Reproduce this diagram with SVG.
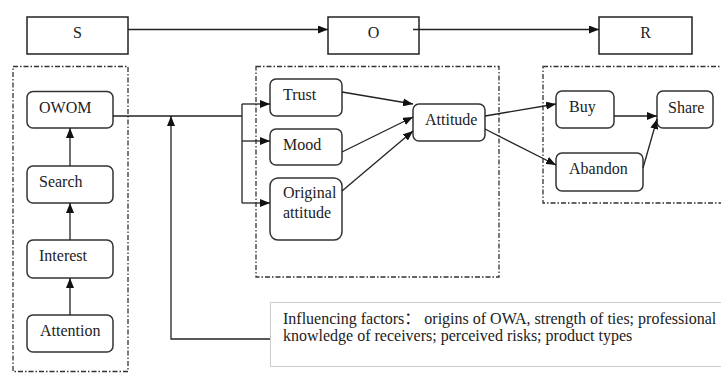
<svg xmlns="http://www.w3.org/2000/svg" width="721" height="373" viewBox="0 0 721 373">
  <defs>
    <marker id="arrow" markerUnits="userSpaceOnUse" markerWidth="10" markerHeight="8" refX="10" refY="4" orient="auto">
      <path d="M0,0 L10,4 L0,8 z" fill="#111"/>
    </marker>
    <style>
      text { font-family: "Liberation Serif", "Times New Roman", Times, "DejaVu Serif", serif; font-size: 16px; fill: #222; }
      .cjk { font-family: "Noto Sans CJK SC", "Liberation Serif", serif; }
      .stage { fill: #fff; stroke: #222; stroke-width: 1.5; }
      .node { fill: #fff; stroke: #333; stroke-width: 1.5; }
      .zone { fill: none; stroke: #333; stroke-width: 1.3; stroke-dasharray: 5 2 1.5 2; }
      .note { fill: #fff; stroke: #999; stroke-width: 1; stroke-dasharray: 1 1; }
      .link { fill: none; stroke: #222; stroke-width: 1.3; }
      .arr { marker-end: url(#arrow); }
    </style>
  </defs>
  <rect width="721" height="373" fill="#fff"/>

  <!-- dash-dot grouping frames -->
  <g id="frames">
    <rect class="zone" x="13" y="66.5" width="115" height="305"/>
    <rect class="zone" x="256" y="66.5" width="243" height="210.5"/>
    <rect class="zone" x="543" y="66.5" width="190" height="136.5"/>
  </g>

  <!-- S-O-R stages -->
  <g id="stage-s"><rect class="stage" x="27" y="17" width="101" height="37"/><text x="77.5" y="38" text-anchor="middle">S</text></g>
  <g id="stage-o"><rect class="stage" x="328" y="17" width="91" height="37"/><text x="373.5" y="38" text-anchor="middle">O</text></g>
  <g id="stage-r"><rect class="stage" x="599" y="17" width="93" height="37"/><text x="645.5" y="38" text-anchor="middle">R</text></g>

  <!-- stimulus chain -->
  <g id="owom"><rect class="node" x="27" y="91.5" width="86" height="36.5" rx="6"/><text x="39" y="113">OWOM</text></g>
  <g id="search"><rect class="node" x="27" y="166" width="86" height="37" rx="6"/><text x="39" y="187">Search</text></g>
  <g id="interest"><rect class="node" x="27" y="240" width="86" height="38" rx="6"/><text x="39" y="261">Interest</text></g>
  <g id="attention"><rect class="node" x="27" y="315" width="86" height="37" rx="6"/><text x="40" y="336">Attention</text></g>

  <!-- organism -->
  <g id="trust"><rect class="node" x="270" y="79" width="72" height="37" rx="6"/><text x="283" y="99.5">Trust</text></g>
  <g id="mood"><rect class="node" x="270" y="129" width="72" height="36" rx="6"/><text x="283" y="150">Mood</text></g>
  <g id="original-attitude"><rect class="node" x="270" y="178" width="72" height="62" rx="8"/><text x="283" y="198">Original</text><text x="283" y="218">attitude</text></g>
  <g id="attitude"><rect class="node" x="413" y="104" width="72" height="37" rx="6"/><text x="425" y="125">Attitude</text></g>

  <!-- response -->
  <g id="buy"><rect class="node" x="556" y="91" width="58" height="37" rx="6"/><text x="569" y="112">Buy</text></g>
  <g id="share"><rect class="node" x="657" y="91" width="56" height="37" rx="6"/><text x="668" y="113">Share</text></g>
  <g id="abandon"><rect class="node" x="556" y="153" width="87" height="38" rx="6"/><text x="569" y="174">Abandon</text></g>

  <!-- influencing factors note -->
  <g id="factors">
    <rect class="note" x="270.5" y="302.5" width="470" height="64"/>
    <text x="283" y="324">Influencing factors<tspan class="cjk">：</tspan> origins of OWA, strength of ties; professional</text>
    <text x="283" y="341">knowledge of receivers; perceived risks; product types</text>
  </g>

  <!-- connectors -->
  <g id="connectors">
    <line class="link arr" x1="128" y1="29.5" x2="328" y2="29.5"/>
    <line class="link arr" x1="413" y1="29.5" x2="599" y2="29.5"/>

    <line class="link arr" x1="70" y1="315" x2="70" y2="278"/>
    <line class="link arr" x1="70" y1="240" x2="70" y2="203"/>
    <line class="link arr" x1="70" y1="166" x2="70" y2="128"/>

    <polyline class="link" points="113,116 242,116"/>
    <line class="link" x1="242" y1="104" x2="242" y2="203"/>
    <line class="link arr" x1="242" y1="104" x2="270" y2="104"/>
    <line class="link arr" x1="242" y1="141" x2="270" y2="141"/>
    <line class="link arr" x1="242" y1="203" x2="270" y2="203"/>

    <polyline class="link arr" points="270,339 171,339 171,116"/>

    <line class="link arr" x1="342" y1="92" x2="413" y2="104"/>
    <line class="link arr" x1="342" y1="152" x2="413" y2="117"/>
    <line class="link arr" x1="342" y1="191" x2="413" y2="131"/>

    <line class="link arr" x1="485" y1="116" x2="556" y2="104"/>
    <line class="link arr" x1="485" y1="129" x2="556" y2="165"/>
    <line class="link arr" x1="614" y1="116" x2="657" y2="116"/>
    <line class="link arr" x1="643" y1="168" x2="657" y2="119"/>
  </g>
</svg>
